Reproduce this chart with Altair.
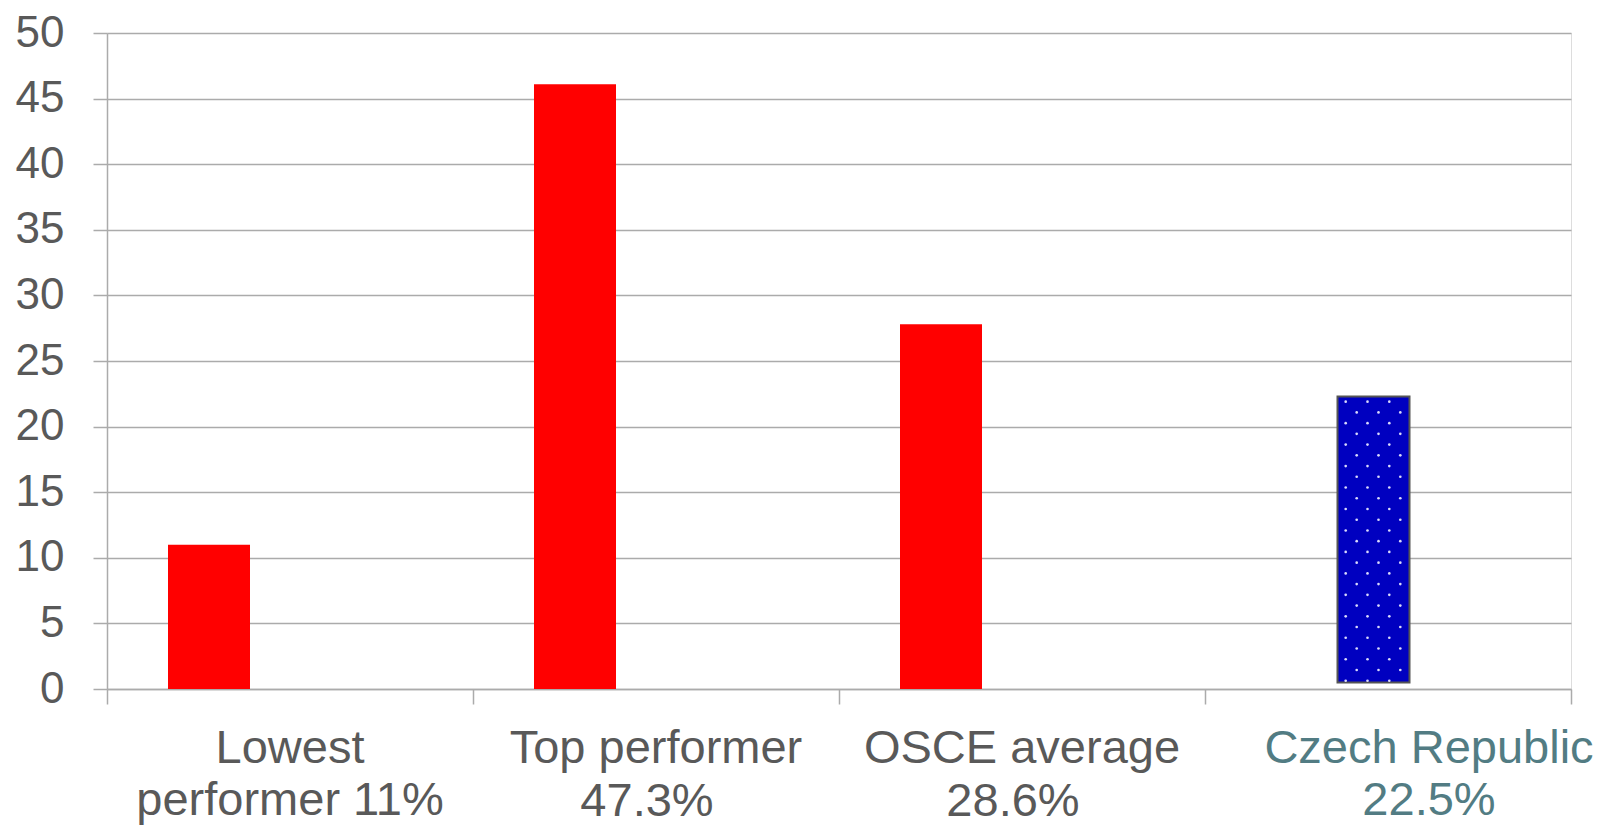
import altair as alt
import pandas as pd

categories = ["Lowest performer", "Top performer", "OSCE average", "Czech Republic"]
values = [11.0, 46.1, 27.8, 22.3]
bases = [0.0, 0.0, 0.0, 0.5]
label_line1 = ["Lowest", "Top performer", "OSCE average", "Czech Republic"]
label_line2 = ["performer 11%", "47.3%", "28.6%", "22.5%"]
y_ticks = [0, 5, 10, 15, 20, 25, 30, 35, 40, 45, 50]

df = pd.DataFrame({
    "category": categories,
    "value": values,
    "base": bases,
    "line1": label_line1,
    "line2": label_line2,
})

GREY = "#595959"
GRID = "#ABABAB"
TEAL = "#527C83"
FONT = "Liberation Sans"
CZ = "Czech Republic"

xscale = alt.Scale(domain=categories, paddingInner=0, paddingOuter=0)
x_enc = alt.X(
    "category:N", scale=xscale, title=None,
    axis=alt.Axis(title=None, labels=False, tickBand="extent", tickSize=15,
                  tickColor=GRID, tickWidth=1.5, domainColor=GRID, domainWidth=1.5,
                  grid=False),
)
y_enc = alt.Y(
    "value:Q", scale=alt.Scale(domain=[0, 50], nice=False), title=None,
    axis=alt.Axis(title=None, values=y_ticks, grid=True, gridColor=GRID, gridWidth=1.5,
                  tickSize=14, tickColor=GRID, tickWidth=1.5, domainColor=GRID,
                  domainWidth=1.5, labelFont=FONT, labelFontSize=44, labelColor=GREY,
                  labelPadding=29),
)

base = alt.Chart(df)

red = base.transform_filter(alt.datum.category != CZ).mark_bar(
    color="#FF0000", width=82, xOffset=-81
).encode(x=x_enc, y=y_enc, y2="base:Q")

czech = base.transform_filter(alt.datum.category == CZ).mark_bar(
    color="#0000C0", stroke="#555555", strokeWidth=2, width=72, xOffset=-14.5
).encode(x=x_enc, y=y_enc, y2="base:Q")

# dotted texture on the Czech bar
dots = alt.Chart(alt.sequence(0, 90, as_="i")).transform_calculate(
    yv="21.9 - floor(datum.i / 3) * 0.818",
    dx="(floor(datum.i / 3) % 2 == 0 ? 140.7 : 151.7) + (datum.i % 3) * 21.8",
    cat="'Czech Republic'",
).transform_filter("datum.yv > 0.6").mark_point(
    filled=True, size=7, color="#E6E6FF", opacity=0.95
).encode(
    x=alt.X("cat:N", title=None),
    xOffset=alt.XOffset("dx:Q", scale=alt.Scale(domain=[0, 366], range=[0, 366])),
    y=alt.Y("yv:Q", title=None),
)

txt = dict(font=FONT, fontSize=47, baseline="alphabetic", align="center")

t1 = base.transform_filter(alt.datum.category != CZ).mark_text(color=GREY, **txt).encode(
    x=alt.X("category:N", title=None), y=alt.value(730), text="line1:N")
t2a = base.transform_filter(alt.datum.category == "Lowest performer").mark_text(color=GREY, **txt).encode(
    x=alt.X("category:N", title=None), y=alt.value(782), text="line2:N")
t2b = base.transform_filter(
    (alt.datum.category == "Top performer") | (alt.datum.category == "OSCE average")
).mark_text(color=GREY, dx=-9, **txt).encode(
    x=alt.X("category:N", title=None), y=alt.value(783), text="line2:N")
t3 = base.transform_filter(alt.datum.category == CZ).mark_text(color=TEAL, dx=41, **txt).encode(
    x=alt.X("category:N", title=None), y=alt.value(730), text="line1:N")
t4 = base.transform_filter(alt.datum.category == CZ).mark_text(color=TEAL, dx=41, **txt).encode(
    x=alt.X("category:N", title=None), y=alt.value(782), text="line2:N")

chart = alt.layer(red, czech, dots, t1, t2a, t2b, t3, t4).properties(
    width=1464, height=656,
    autosize="none",
    padding={"left": 99, "top": 25, "right": 27, "bottom": 138},
).configure_view(stroke=None).configure(background="white")

chart.save("out.html", embed_options={"renderer": "svg", "actions": False})
